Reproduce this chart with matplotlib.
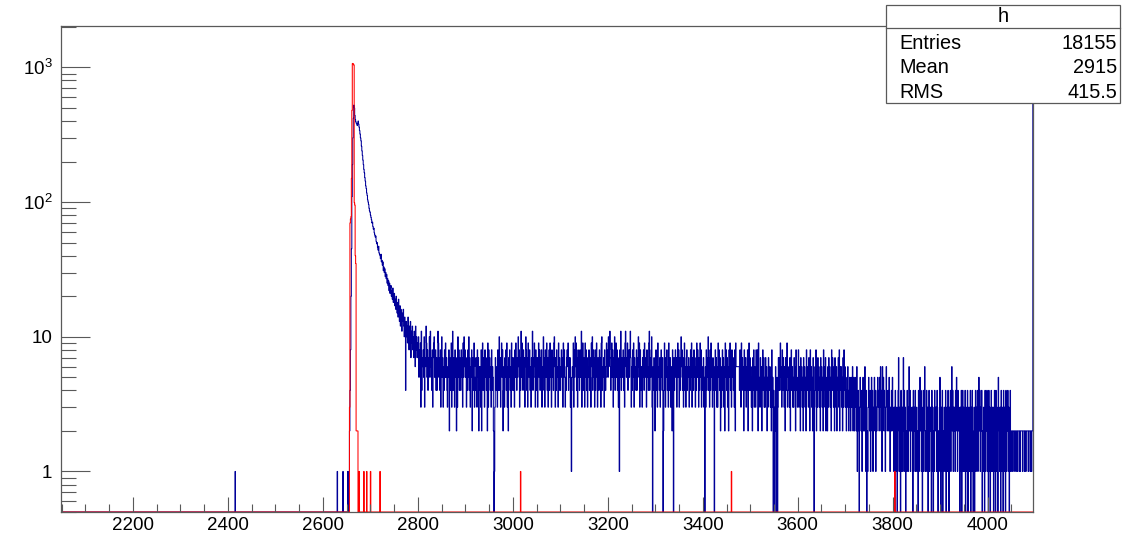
import numpy as np
import matplotlib
matplotlib.use("Agg")
import matplotlib.pyplot as plt
from matplotlib.patches import Rectangle
from matplotlib.lines import Line2D
from matplotlib.ticker import MultipleLocator, FixedLocator, FixedFormatter, LogLocator, NullFormatter

plt.rcParams['font.family'] = ['Liberation Sans', 'DejaVu Sans']
plt.rcParams['mathtext.fontset'] = 'custom'
plt.rcParams['mathtext.rm'] = 'Liberation Sans'

# histogram binning (ADC channels, 1 channel per bin)
x_lo, x_hi, bin_w = 2048, 4096, 1

# blue histogram: main peak + decay, one value per channel from 2655
blue_peak_start = 2655
blue_peak = [1, 2, 4, 8, 20, 45, 110, 190, 300, 420,
             525, 500, 440, 410, 395, 385, 380, 370, 385, 400,
             380, 360, 340, 320, 300, 285, 260, 240, 222, 205,
             190, 175, 165, 152, 143, 132, 126, 117, 112, 104,
             100, 96, 90, 86, 84, 80, 77, 74, 70, 71,
             66, 63, 64, 59, 57, 55, 56, 51, 49, 50,
             46, 44, 47, 42, 41, 40, 38, 41, 36, 37,
             34, 36, 31, 33, 30, 32, 28, 30, 27, 29,
             25, 27, 24, 26, 22, 25, 21, 23, 24, 20,
             22, 19, 23, 18, 20, 21, 17, 19, 16, 20,
             17, 15, 18, 14, 19, 15, 13, 17, 12, 16,
             14, 11, 15, 13, 16, 12, 10, 14, 11, 4,
             13, 10, 12, 9, 14, 11, 8, 12, 10, 13,
             7, 11, 9, 12, 8, 10, 7, 11, 9, 6,
             12, 8, 10, 7, 9]
# isolated single counts before the peak
blue_single_x = [2415, 2630, 2642, 2652]
# flat tail from 2800, one string per 100 channels (hex digit = counts)
blue_tail_start = 2800
blue_tail_rows = [
    "7a58693b47" "685a376c95" "8476a5b674" "8379a56847" "46b9574836"
    "a573648595" "7436582746" "935b476385" "7263a58476" "4857395a68",
    "5736485a47" "3658274693" "5476385726" "4638259475" "3857462938"
    "5746384652" "0137546384" "5a47369582" "4637584936" "2758463947",
    "6473859647" "5a68374b59" "6485736a84" "7396584637" "5b47695386"
    "4736958475" "8364a57386" "5947368495" "6385749a63" "7485639475",
    "4685739586" "3547869475" "7351465938" "5a69473856" "4857b36947"
    "6395847365" "8475396a48" "5738469537" "6485739a46" "5738645986",
    "5a68b74695" "8375a46958" "4736185b47" "6584739b65" "7946858b73"
    "6485937564" "8475a69385" "4637584956" "7385649b47" "58a3064752",
    "5847396547" "3685470249" "6375846395" "4736528407" "4685736958"
    "3745a68473" "5946378465" "7364859376" "4857364958" "6374958364",
    "4735063847" "5a47384956" "3746058473" "6395847263" "5847362958"
    "4736285947" "3856473829" "6666666485" "3957462845" "7364825947",
    "4635274836" "5386482935" "4736258473" "5374625374" "4635283504"
    "0326045037" "4749563847" "5362745934" "4637258463" "5374628453",
    "4836527463" "5274635284" "4637528463" "5274036482" "5374635274"
    "6352846372" "4526374635" "2847536274" "3625473826" "4635273846",
    "3524364235" "4253462352" "4352613420" "3542413524" "2631402135"
    "3241352413" "3524132453" "4253624162" "5342136423" "4253132425",
    "3213042130" "2471320412" "3172413021" "4213624132" "2304132412"
    "3120413524" "1302413621" "2413024132" "3041302143" "2314202135",
    "2031402132" "1402314203" "2413624132" "3142531423" "2031402413"
    "2140312402" "3124031420" "1302413241" "3524132402" "1320413241",
    "2041302413" "1302410413" "2053213041" "3104132041" "3241302412"
    "2122212221" "2212221212" "2221222122" "1222212221" "22122",
]
blue_overflow_x = 4095
blue_overflow_n = 800

# red histogram
red_peak_start = 2656
red_peak = [3, 70, 75, 78, 150, 480, 1070, 1065, 1060, 1040,
            99, 95, 40, 35, 2, 2, 2, 2]
red_single_x = [2676, 2686, 2692, 2700, 2720, 3016, 3460, 3804]

stats_name = "h"
stats_rows = [("Entries", "18155"), ("Mean", "2915"), ("RMS", "415.5")]

y_lo, y_hi = 0.5, 2030


def fill(arr, x0, vals):
    i0 = (x0 - x_lo) // bin_w
    vals = list(vals)[:len(arr) - i0]
    arr[i0:i0 + len(vals)] = vals


edges = np.arange(x_lo, x_hi + bin_w, bin_w)
nbins = len(edges) - 1

blue = np.zeros(nbins)
fill(blue, blue_peak_start, blue_peak)
for x in blue_single_x:
    fill(blue, x, [1])
tail = [int(c, 16) for row in blue_tail_rows for c in row]
fill(blue, blue_tail_start, tail)
fill(blue, blue_overflow_x, [blue_overflow_n])

red = np.zeros(nbins)
fill(red, red_peak_start, red_peak)
for x in red_single_x:
    fill(red, x, [1])

# ROOT-like: empty bins drawn at the frame minimum
blue_plot = np.where(blue > 0, blue, y_lo)
red_plot = np.where(red > 0, red, y_lo)

W, H = 1133, 533
fig = plt.figure(figsize=(W / 100, H / 100), dpi=100)
L, R, T, B = 60.7, 1033.3, 26, 512
ax = fig.add_axes([L / W, 1 - B / H, (R - L) / W, (B - T) / H])

ax.stairs(blue_plot, edges, color='#000099', lw=0.75, baseline=None)
ax.stairs(red_plot, edges, color='#ff0000', lw=0.75, baseline=None)

ax.set_yscale('log')
ax.set_xlim(x_lo, x_hi)
ax.set_ylim(y_lo, y_hi)

ax.xaxis.set_major_locator(MultipleLocator(200))
ax.xaxis.set_minor_locator(MultipleLocator(50))
ax.yaxis.set_major_locator(FixedLocator([1, 10, 100, 1000]))
ax.yaxis.set_major_formatter(FixedFormatter(['1', '10', r'$\mathregular{10^{2}}$', r'$\mathregular{10^{3}}$']))
ax.yaxis.set_minor_locator(LogLocator(base=10, subs=np.arange(2, 10), numticks=20))
ax.yaxis.set_minor_formatter(NullFormatter())

ax.tick_params(axis='x', which='major', direction='in', length=10.8, width=0.8, color='0.35',
               labelsize=13.5, pad=3.5)
ax.tick_params(axis='x', which='minor', direction='in', length=5.8, width=0.8, color='0.35')
ax.tick_params(axis='y', which='major', direction='in', length=21.2, width=0.8, color='0.35',
               labelsize=13.5, pad=6)
ax.tick_params(axis='y', which='minor', direction='in', length=10.8, width=0.8, color='0.35')
for s in ax.spines.values():
    s.set_color('0.35')
    s.set_linewidth(0.9)


# stats box in pixel coordinates
def fx(px):
    return px / W


def fy(py):
    return 1 - py / H


bx0, bx1, by0, by1, hline = 886, 1120, 4.7, 102.7, 28.3
fig.add_artist(Rectangle((fx(bx0), fy(by1)), fx(bx1) - fx(bx0), fy(by0) - fy(by1),
                         transform=fig.transFigure, facecolor='white', edgecolor='0.35',
                         lw=0.9, zorder=5))
fig.add_artist(Line2D([fx(bx0), fx(bx1)], [fy(hline), fy(hline)], transform=fig.transFigure,
                      color='0.35', lw=0.9, zorder=6))
fig.text(fx((bx0 + bx1) / 2), fy(17), stats_name, ha='center', va='center', fontsize=14.3, zorder=7)
for k, (lab, val) in enumerate(stats_rows):
    yy = 43 + k * 24.5
    fig.text(fx(899), fy(yy), lab, ha='left', va='center', fontsize=14.3, zorder=7)
    fig.text(fx(1117), fy(yy), val, ha='right', va='center', fontsize=14.3, zorder=7)

fig.savefig('out.png', dpi=100, facecolor='white')
